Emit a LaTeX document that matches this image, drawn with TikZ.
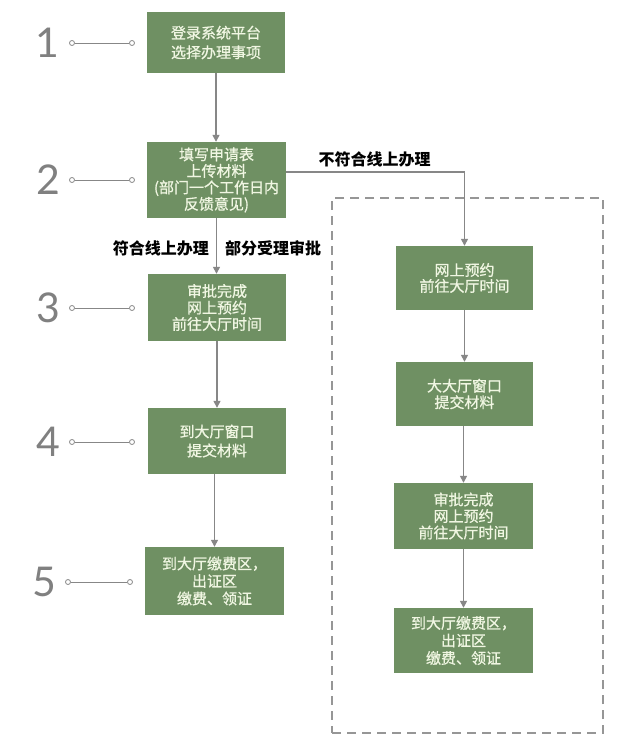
\documentclass[tikz,border=0pt]{standalone}
\usepackage{fontspec}
\newfontfamily\cjk{Noto Sans CJK SC}
\newfontfamily\cjkbox{Noto Sans CJK SC}[FakeBold=0.8]
\newfontfamily\numfont{Lato}
\usetikzlibrary{arrows.meta,calc}
\definecolor{boxgreen}{RGB}{111,144,99}
\definecolor{boxtext}{RGB}{240,246,226}
\definecolor{linegray}{RGB}{135,135,135}
\definecolor{numgray}{RGB}{128,128,128}
\definecolor{dashgray}{RGB}{150,150,150}
\begin{document}
\begin{tikzpicture}[x=1pt,y=-1pt,
  stepbox/.style={fill=boxgreen, text=boxtext, align=center, inner sep=0pt},
  flow/.style={draw=linegray, line width=1.4pt, -{Triangle[length=7pt,width=7pt]}},
  numlabel/.style={font=\numfont\fontsize{41}{41}\selectfont, text=numgray, inner sep=0pt},
  dot/.style={circle, draw=linegray, fill=white, line width=0.8pt, minimum size=5pt, inner sep=0pt},
  tick/.style={draw=linegray, line width=1pt},
  cond/.style={font=\cjk\bfseries\fontsize{16}{18}\selectfont, text=black, inner sep=0pt},
  group/.style={draw=dashgray, line width=2pt, dash pattern=on 9pt off 6pt}]
\useasboundingbox[fill=white] (0,0) rectangle (640,744);

% left column
\node[stepbox, minimum width=138pt, minimum height=61pt, font=\cjkbox\fontsize{15}{19.5}\selectfont] (b1) at (216,42.5) {登录系统平台\\选择办理事项};
\node[stepbox, minimum width=139pt, minimum height=76pt, font=\cjkbox\fontsize{15}{16.5}\selectfont] (b2) at (216.5,180) {填写申请表\\上传材料\\(部门一个工作日内\\反馈意见)};
\node[stepbox, minimum width=138pt, minimum height=67pt, font=\cjkbox\fontsize{15}{16.5}\selectfont] (b3) at (217,307.5) {审批完成\\网上预约\\前往大厅时间};
\node[stepbox, minimum width=138pt, minimum height=66pt, font=\cjkbox\fontsize{15}{19}\selectfont] (b4) at (217,441) {到大厅窗口\\提交材料};
\node[stepbox, minimum width=139pt, minimum height=68pt, font=\cjkbox\fontsize{15}{17.5}\selectfont] (b5) at (214.5,581) {到大厅缴费区，\\出证区\\缴费、领证};

% right column
\node[group, minimum width=271pt, minimum height=535pt, inner sep=0pt] (grp) at (467.5,465.5) {};
\node[stepbox, minimum width=137pt, minimum height=64pt, font=\cjkbox\fontsize{15}{16}\selectfont] (r1) at (464.5,278) {网上预约\\前往大厅时间};
\node[stepbox, minimum width=137pt, minimum height=64pt, font=\cjkbox\fontsize{15}{16.5}\selectfont] (r2) at (464.5,394) {大大厅窗口\\提交材料};
\node[stepbox, minimum width=139pt, minimum height=66pt, font=\cjkbox\fontsize{15}{16.5}\selectfont] (r3) at (463.5,516) {审批完成\\网上预约\\前往大厅时间};
\node[stepbox, minimum width=139pt, minimum height=65pt, font=\cjkbox\fontsize{15}{17.5}\selectfont] (r4) at (463.5,640.5) {到大厅缴费区，\\出证区\\缴费、领证};

% condition labels
\node[cond, anchor=east] (lab1) at (209,248) {符合线上办理};
\node[cond, anchor=west] (lab2) at (225,248) {部分受理审批};
\node[cond] (lab3) at (374.5,159) {不符合线上办理};

% arrows
\draw[flow] (b1.south) -- (b1.south |- b2.north);
\draw[flow] (b2.south) -- (b2.south |- b3.north);
\draw[flow] (b3.south) -- (b3.south |- b4.north);
\draw[flow] (b4.south -| b5.north) -- (b5.north);
\draw[flow] ($(b2.east)+(0,-8)$) -| (r1.north);
\draw[flow] (r1.south) -- (r2.north);
\draw[flow] (r2.south -| r3.north) -- (r3.north);
\draw[flow] (r3.south) -- (r4.north);

% step numbers
\node[numlabel] (n1) at (47,43) {1};
\node[numlabel] (n2) at (48,180) {2};
\node[numlabel] (n3) at (48,308) {3};
\node[numlabel] (n4) at (48,442) {4};
\node[numlabel] (n5) at (44,582) {5};
\foreach \i/\y/\xa/\xb in {1/43/72/132, 2/180/72/132, 3/308/72/132, 4/442/72/132, 5/582/68/130}{
  \node[dot] (c\i a) at (\xa,\y) {};
  \node[dot] (c\i b) at (\xb,\y) {};
  \draw[tick] (c\i a) -- (c\i b);
}
\end{tikzpicture}
\end{document}
